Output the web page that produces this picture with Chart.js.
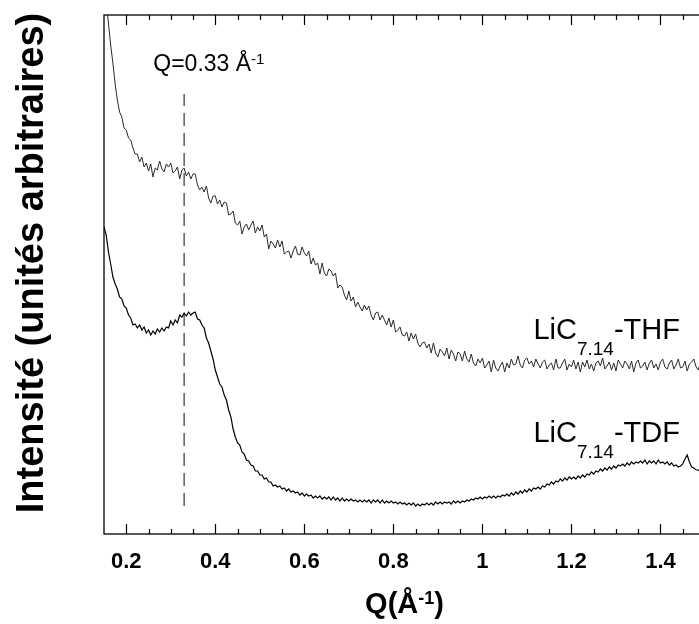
<!DOCTYPE html>
<html>
<head>
<meta charset="utf-8">
<script src="https://cdn.jsdelivr.net/npm/chart.js@4/dist/chart.umd.min.js"></script>
<style>
  body { margin: 0; overflow: hidden; background: #fff; }
  #wrap { position: absolute; left: 0; top: 0; }
</style>
</head>
<body>
<div id="wrap"><canvas id="myChart" width="720" height="624"></canvas></div>
<script>
//Q grid of the scan (A^-1)
var qStart = 0.15;
var qStep = 0.005;

//LiC7.14-THF intensity (arbitrary units)
var thf = [
  550,530,511,489,471,450,434,422,417,406,
  404,396,394,386,380,380,372,377,367,371,
  363,370,357,366,364,373,365,362,370,367,
  371,361,363,367,355,364,366,358,362,355,
  360,360,349,344,347,342,348,336,331,338,
  338,330,334,327,332,331,319,320,323,311,
  309,313,300,307,310,304,309,313,301,307,
  303,309,297,300,285,293,290,286,294,287,
  293,280,282,283,276,283,288,280,279,287,
  281,278,283,270,276,269,271,260,271,261,
  258,265,263,258,261,246,249,247,239,234,
  243,233,237,227,232,227,223,229,224,228,
  219,214,221,222,214,219,214,209,216,207,
  214,202,204,207,199,198,202,193,201,195,
  200,191,187,191,192,186,190,181,191,181,
  177,185,182,178,186,175,184,180,173,182,
  180,173,183,175,172,180,171,168,175,171,
  176,166,169,173,162,174,166,163,168,172,
  162,171,166,175,169,170,178,169,166,174,
  176,170,173,167,175,170,166,172,174,165,
  169,171,164,175,166,166,171,175,164,170,
  167,174,165,172,162,172,167,174,165,170,
  163,171,173,168,176,165,168,172,164,171,
  163,174,170,166,173,170,165,173,162,171,
  174,166,168,172,164,171,174,166,170,164,
  172,175,167,165,171,174,165,169,175,166,
  167,173,163,170,172,175,167,164,172,169,
  174
];

//LiC7.14-TDF intensity
var tdf = [
  307,299,282,270,257,250,245,237,235,228,
  226,219,216,209,210,206,209,204,207,201,
  204,199,203,200,205,202,206,203,207,206,
  213,209,214,211,219,217,221,218,222,219,
  221,222,215,214,209,206,196,191,183,175,
  164,157,150,147,139,134,124,117,105,97,
  91,89,82,80,74,73,69,68,63,63,
  59,59,55,56,52,52,48,49,47,48,
  45,46,43,45,42,43,41,42,39,41,
  38,40,38,39,36,38,36,38,35,37,
  35,37,34,37,34,36,33,36,33,35,
  33,35,33,34,32,34,32,34,32,34,
  31,34,32,34,31,34,31,33,31,33,
  31,32,30,32,30,31,29,31,29,31,
  28,30,28,30,29,31,29,31,29,32,
  30,32,30,32,31,32,30,33,31,33,
  31,33,32,34,33,35,34,36,35,37,
  35,37,36,38,36,38,36,38,37,39,
  38,40,38,41,39,42,40,43,41,44,
  42,45,43,46,45,47,45,48,47,50,
  49,52,50,53,52,55,53,56,54,57,
  55,57,55,58,56,59,57,60,59,62,
  60,63,62,65,63,66,64,67,65,68,
  66,69,68,70,68,71,69,72,70,72,
  71,73,71,74,70,73,71,73,70,74,
  71,72,70,72,69,71,68,69,67,68,
  70,75,79,72,67,66,64,64,62,62,
  61
];

//x tick labels
var qTicks = [0.2, 0.4, 0.6, 0.8, 1.0, 1.2, 1.4];

//peak marker
var peakQ = 0.33;
var peakLine = [28, 440];

var font = "'Liberation Sans', Arial, Helvetica, sans-serif";

//build point lists from the grid
function toPoints(arr) {
  var pts = [];
  for (var i = 0; i < arr.length; i++) {
    pts.push({ x: +(qStart + i * qStep).toFixed(3), y: arr[i] });
  }
  return pts;
}

//draws text pieces one after the other (sub / superscripts)
function richText(ctx, x, y, parts) {
  for (var i = 0; i < parts.length; i++) {
    var p = parts[i];
    ctx.font = (p.bold ? 'bold ' : '') + p.size + 'px ' + font;
    ctx.fillText(p.t, x, y + (p.dy || 0));
    x += ctx.measureText(p.t).width;
  }
}
function richWidth(ctx, parts) {
  var w = 0;
  for (var i = 0; i < parts.length; i++) {
    ctx.font = (parts[i].bold ? 'bold ' : '') + parts[i].size + 'px ' + font;
    w += ctx.measureText(parts[i].t).width;
  }
  return w;
}

//frame, inward ticks and all the text
var decor = {
  id: 'decor',
  afterDatasetsDraw: (chart) => {
    var ctx = chart.ctx;
    var a = chart.chartArea;
    var x = chart.scales.x;
    var y = chart.scales.y;
    ctx.save();
    ctx.strokeStyle = '#000';
    ctx.lineWidth = 1.3;
    ctx.strokeRect(a.left, a.top, a.right - a.left, a.bottom - a.top);

    // ticks every 0.05, long ones every 0.2
    ctx.lineWidth = 1.2;
    for (var k = 4; k <= 30; k++) {
      var v = k * 0.05;
      var px = Math.round(x.getPixelForValue(v)) + 0.5;
      var len = (k % 4 == 0) ? 10 : 5;
      ctx.beginPath();
      ctx.moveTo(px, a.bottom);
      ctx.lineTo(px, a.bottom - len);
      ctx.moveTo(px, a.top);
      ctx.lineTo(px, a.top + len);
      ctx.stroke();
    }

    ctx.fillStyle = '#000';
    ctx.textBaseline = 'alphabetic';
    ctx.textAlign = 'left';

    // Q=0.33 label
    richText(ctx, x.getPixelForValue(0.2607), y.getPixelForValue(463), [
      { t: 'Q=0.33 Å', size: 23 },
      { t: '-1', size: 15, dy: -7 }
    ]);

    // curve labels
    var lx = x.getPixelForValue(1.1146);
    richText(ctx, lx, y.getPixelForValue(195), [
      { t: 'LiC', size: 29 },
      { t: '7.14', size: 19, dy: 16 },
      { t: '-THF', size: 29 }
    ]);
    richText(ctx, lx, y.getPixelForValue(92), [
      { t: 'LiC', size: 29 },
      { t: '7.14', size: 19, dy: 16 },
      { t: '-TDF', size: 29 }
    ]);

    // x axis title
    var xt = [
      { t: 'Q(Å', size: 29, bold: true },
      { t: '-1', size: 18, bold: true, dy: -9 },
      { t: ')', size: 29, bold: true }
    ];
    var cx = (a.left + a.right) / 2;
    richText(ctx, cx - richWidth(ctx, xt) / 2, 613, xt);

    // y axis title
    ctx.translate(43, 263);
    ctx.rotate(-Math.PI / 2);
    ctx.textAlign = 'center';
    ctx.font = 'bold 38px ' + font;
    ctx.fillText('Intensité (unités arbitraires)', 0, 0);
    ctx.restore();
  }
};

var ctx = document.getElementById('myChart').getContext('2d');
var myChart = new Chart(ctx, {
  type: 'line',
  data: {
    datasets: [{
      label: 'LiC7.14-THF',
      data: toPoints(thf),
      borderColor: '#2a2a2a',
      borderWidth: 1,
      pointRadius: 0,
      tension: 0
    }, {
      label: 'LiC7.14-TDF',
      data: toPoints(tdf),
      borderColor: '#000',
      borderWidth: 1.2,
      pointRadius: 0,
      tension: 0
    }, {
      label: 'Q=0.33',
      data: [{ x: peakQ, y: peakLine[0] }, { x: peakQ, y: peakLine[1] }],
      borderColor: '#444',
      borderWidth: 1.3,
      borderDash: [13, 7],
      pointRadius: 0
    }]
  },
  options: {
    responsive: false,
    animation: false,
    devicePixelRatio: 1,
    layout: { padding: { left: 104, top: 15, right: 15, bottom: 0 } },
    plugins: {
      legend: { display: false },
      tooltip: { enabled: false }
    },
    scales: {
      x: {
        type: 'linear',
        min: 0.15,
        max: 1.5,
        grid: { display: false },
        border: { display: false },
        afterBuildTicks: (scale) => {
          scale.ticks = qTicks.map(v => ({ value: v }));
        },
        afterFit: (scale) => { scale.height = 90; },
        ticks: {
          autoSkip: false,
          maxRotation: 0,
          padding: 7,
          color: '#000',
          font: { family: font, size: 22, weight: 'bold' },
          callback: (v) => String(+v.toFixed(1))
        }
      },
      y: {
        display: false,
        min: 0,
        max: 519
      }
    }
  },
  plugins: [decor]
});
</script>
</body>
</html>
